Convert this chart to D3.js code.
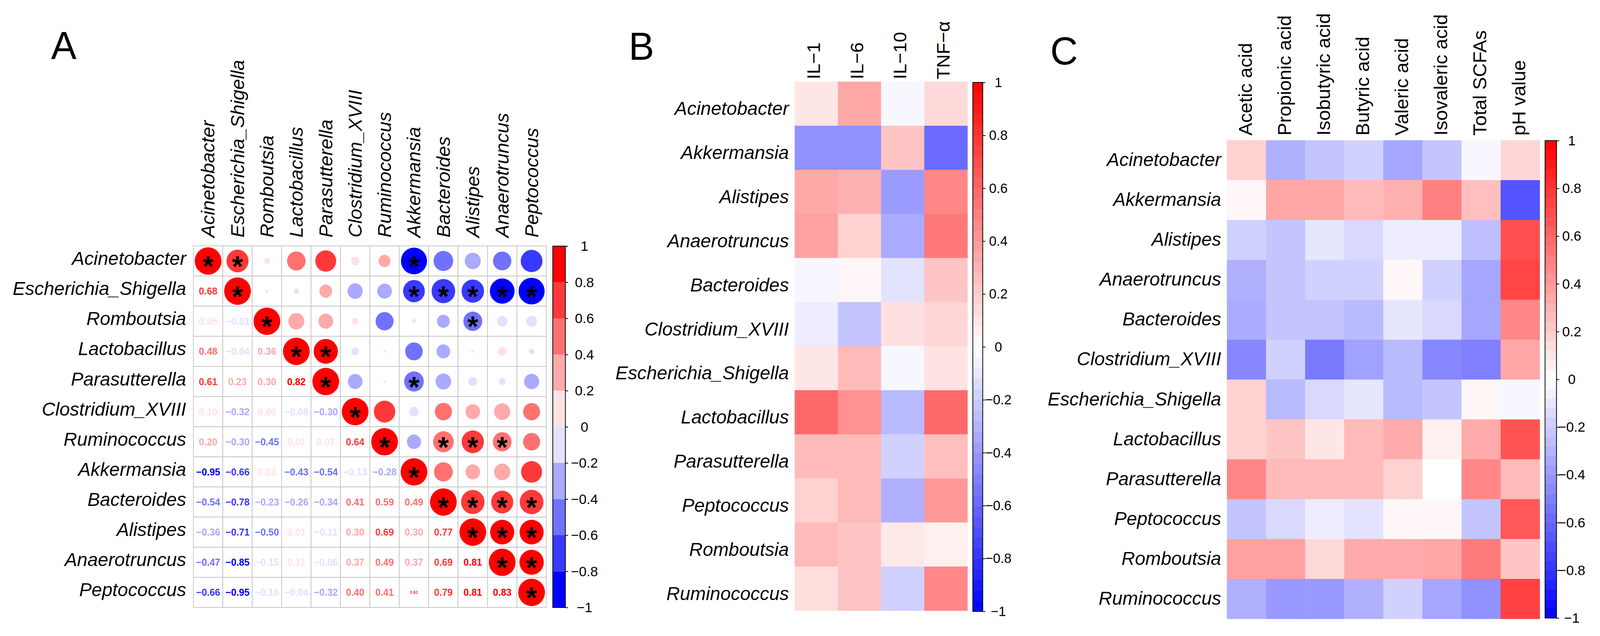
<!DOCTYPE html>
<html>
<head>
<meta charset="utf-8">
<title>Correlation heatmaps</title>
<script src="https://cdn.jsdelivr.net/npm/d3@7"></script>
<style>
  html, body { margin: 0; padding: 0; background: #fff; overflow: hidden; }
  svg { display: block; width: 100vw; height: 100vh; }
  text { font-family: "Liberation Sans", Arial, sans-serif; }
</style>
</head>
<body>
<svg viewBox="0 0 4194 1628" preserveAspectRatio="none" id="mainsvg"></svg>
<script>
// ---- data: panel A (genus x genus spearman, lower triangle) ----
const taxaA = ['Acinetobacter', 'Escherichia_Shigella', 'Romboutsia', 'Lactobacillus', 'Parasutterella',
  'Clostridium_XVIII', 'Ruminococcus', 'Akkermansia', 'Bacteroides', 'Alistipes', 'Anaerotruncus', 'Peptococcus'];
const corrLower = [
  [],
  [0.68],
  [0.05, -0.01],
  [0.48, -0.04, 0.36],
  [0.61, 0.23, 0.30, 0.82],
  [0.10, -0.32, 0.06, -0.08, -0.30],
  [0.20, -0.30, -0.45, 0.01, 0.01, 0.64],
  [-0.95, -0.66, 0.03, -0.43, -0.54, -0.13, -0.28],
  [-0.54, -0.78, -0.23, -0.26, -0.34, 0.41, 0.59, 0.49],
  [-0.36, -0.71, -0.50, 0.01, -0.11, 0.30, 0.69, 0.30, 0.77],
  [-0.47, -0.85, -0.15, 0.11, -0.06, 0.37, 0.49, 0.37, 0.69, 0.81],
  [-0.66, -0.95, -0.16, -0.04, -0.32, 0.40, 0.41, 0.62, 0.79, 0.81, 0.83]
];
// significant pairs [row, col] in the upper triangle (diagonal is always marked)
const sigPairs = [[0, 1], [0, 7], [1, 7], [1, 8], [1, 9], [1, 10], [1, 11], [2, 9], [3, 4], [4, 7],
  [6, 8], [6, 9], [6, 10], [8, 9], [8, 10], [8, 11], [9, 10], [9, 11], [10, 11]];
const legendTicks = [1, 0.8, 0.6, 0.4, 0.2, 0, -0.2, -0.4, -0.6, -0.8, -1];

// ---- data: panels B and C ----
const taxaBC = ['Acinetobacter', 'Akkermansia', 'Alistipes', 'Anaerotruncus', 'Bacteroides', 'Clostridium_XVIII',
  'Escherichia_Shigella', 'Lactobacillus', 'Parasutterella', 'Peptococcus', 'Romboutsia', 'Ruminococcus'];

const cytokines = ['IL\u22121', 'IL\u22126', 'IL\u221210', 'TNF\u2212\u03b1'];
const il1  = [0.10, -0.43, 0.34, 0.37, -0.03, -0.07, 0.10, 0.59, 0.27, 0.18, 0.27, 0.13];
const il6  = [0.34, -0.43, 0.31, 0.18, 0.03, -0.23, 0.27, 0.43, 0.27, 0.27, 0.23, 0.23];
const il10 = [-0.03, 0.23, -0.39, -0.33, -0.11, 0.12, -0.03, -0.27, -0.18, -0.31, 0.09, -0.18];
const tnf  = [0.15, -0.58, 0.47, 0.53, 0.23, 0.16, 0.11, 0.59, 0.25, 0.40, 0.06, 0.47];

const scfaNames = ['Acetic acid', 'Propionic acid', 'Isobutyric acid', 'Butyric acid', 'Valeric acid',
  'Isovaleric acid', 'Total SCFAs', 'pH value'];
const acetic     = [0.18, 0.03, -0.18, -0.31, -0.33, -0.47, 0.18, 0.18, 0.47, -0.23, 0.37, -0.31];
const propionic  = [-0.31, 0.35, -0.23, -0.23, -0.23, -0.18, -0.27, 0.23, 0.27, -0.15, 0.37, -0.40];
const isobutyric = [-0.23, 0.35, -0.10, -0.18, -0.23, -0.52, -0.15, 0.10, 0.27, -0.07, 0.15, -0.40];
const butyric    = [-0.18, 0.27, -0.15, -0.18, -0.27, -0.37, -0.10, 0.27, 0.27, -0.11, 0.33, -0.31];
const valeric    = [-0.35, 0.31, -0.07, 0.03, -0.10, -0.27, -0.27, 0.33, 0.18, 0.03, 0.33, -0.18];
const isovaleric = [-0.23, 0.50, -0.07, -0.18, -0.15, -0.47, -0.23, 0.06, 0.00, 0.03, 0.35, -0.35];
const totalSCFAs = [-0.03, 0.25, -0.25, -0.35, -0.35, -0.50, 0.03, 0.33, 0.47, -0.23, 0.52, -0.43];
const phValue    = [0.16, -0.67, 0.69, 0.73, 0.47, 0.35, -0.03, 0.67, 0.27, 0.65, 0.23, 0.75];

const svg = d3.select('#mainsvg');
const fmtTick = d3.format('~g');

// panel letters
svg.append('text').attr('x', 134).attr('y', 151).attr('font-size', 100).text('A');
svg.append('text').attr('x', 1648).attr('y', 153).attr('font-size', 100).text('B');
svg.append('text').attr('x', 2753).attr('y', 165).attr('font-size', 100).text('C');

// ================= Panel A =================
const binColors = ['#0000FF', '#3939FF', '#7171FF', '#AAAAFF', '#E2E2FF', '#FFE3E3', '#FFAAAA', '#FF7171', '#FF3939', '#FF0000'];
const colorA = d3.scaleQuantize().domain([-1, 1]).range(binColors);
const xA = d3.scaleBand().domain(taxaA).range([507, 1432]);
const yA = d3.scaleBand().domain(taxaA).range([629.5, 1555]);
const cell = xA.bandwidth();
const rA = d3.scaleSqrt().domain([0, 1]).range([0, cell * 0.455]);

const cellsA = [];
taxaA.forEach((rowName, i) => {
  taxaA.forEach((colName, j) => {
    const v = i === j ? 1 : (i > j ? corrLower[i][j] : corrLower[j][i]);
    cellsA.push({i, j, row: rowName, col: colName, v});
  });
});
const isSig = d => d.i === d.j || sigPairs.some(p => p[0] === d.i && p[1] === d.j);

const gA = svg.append('g');
gA.selectAll('rect.grid').data(cellsA).enter().append('rect')
  .attr('class', 'grid')
  .attr('x', d => xA(d.col)).attr('y', d => yA(d.row))
  .attr('width', cell).attr('height', cell)
  .attr('fill', 'white').attr('stroke', '#C8C8C8').attr('stroke-width', 2);

gA.selectAll('circle').data(cellsA.filter(d => d.j >= d.i)).enter().append('circle')
  .attr('cx', d => xA(d.col) + cell / 2).attr('cy', d => yA(d.row) + cell / 2)
  .attr('r', d => rA(Math.abs(d.v)))
  .attr('fill', d => colorA(d.v));

gA.selectAll('text.num').data(cellsA.filter(d => d.j < d.i)).enter().append('text')
  .attr('class', 'num')
  .attr('x', d => xA(d.col) + cell / 2).attr('y', d => yA(d.row) + cell / 2)
  .attr('dy', '0.36em').attr('text-anchor', 'middle')
  .attr('font-weight', 'bold')
  .attr('font-size', d => (d.row === 'Peptococcus' && d.col === 'Akkermansia') ? 11 : 25)
  .attr('fill', d => colorA(d.v))
  .text(d => d3.format('.2f')(d.v));

gA.selectAll('text.star').data(cellsA.filter(isSig)).enter().append('text')
  .attr('class', 'star')
  .attr('x', d => xA(d.col) + cell / 2).attr('y', d => yA(d.row) + cell / 2 + 39)
  .attr('text-anchor', 'middle').attr('font-size', 74).attr('font-weight', 'bold')
  .text('*');

// row and column labels
gA.selectAll('text.rlab').data(taxaA).enter().append('text')
  .attr('x', 488).attr('y', d => yA(d) + cell / 2 + 10)
  .attr('text-anchor', 'end').attr('font-style', 'italic').attr('font-size', 49)
  .text(d => d);
gA.selectAll('text.clab').data(taxaA).enter().append('text')
  .attr('transform', d => `translate(${xA(d) + cell / 2 + 17}, 608) rotate(-90)`)
  .attr('text-anchor', 'start').attr('font-style', 'italic').attr('font-size', 49)
  .text(d => d);

// discrete colour legend
const yLegA = d3.scaleLinear().domain([-1, 1]).range([1555, 630]);
const gLegA = svg.append('g');
gLegA.selectAll('rect').data(binColors).enter().append('rect')
  .attr('x', 1449).attr('width', 33)
  .attr('y', (c, k) => yLegA(-1 + 0.2 * (k + 1)))
  .attr('height', (c, k) => yLegA(-1 + 0.2 * k) - yLegA(-1 + 0.2 * (k + 1)))
  .attr('fill', c => c);
gLegA.append('rect').attr('x', 1449).attr('y', 630).attr('width', 33).attr('height', 925)
  .attr('fill', 'none').attr('stroke', 'black').attr('stroke-width', 2);
const axA = gLegA.append('g').attr('transform', 'translate(1482,0)')
  .call(d3.axisRight(yLegA).tickValues(legendTicks).tickSize(7).tickFormat(fmtTick));
axA.select('.domain').remove();
axA.selectAll('line').attr('stroke-width', 2);
axA.selectAll('text').attr('x', 50).attr('text-anchor', 'middle').style('font-size', '36px');

// ================= Panels B and C =================
const colorCont = d3.scaleLinear().domain([-1, 0, 1]).range(['#0000FF', '#FFFFFF', '#FF0000']);

function drawHeat(cfg) {
  const x = d3.scaleBand().domain(cfg.cols).range(cfg.xRange);
  const y = d3.scaleBand().domain(taxaBC).range(cfg.yRange);
  const g = svg.append('g');
  const cells = [];
  cfg.series.forEach((vals, c) => vals.forEach((v, r) => cells.push({col: cfg.cols[c], row: taxaBC[r], v})));

  g.selectAll('rect').data(cells).enter().append('rect')
    .attr('x', d => x(d.col)).attr('y', d => y(d.row))
    .attr('width', x.bandwidth() + 0.5).attr('height', y.bandwidth() + 0.5)
    .attr('fill', d => colorCont(d.v));

  g.selectAll('text.rlab').data(taxaBC).enter().append('text')
    .attr('x', cfg.rowLabX).attr('y', d => y(d) + y.bandwidth() / 2 + cfg.rowDy)
    .attr('text-anchor', 'end').attr('font-style', 'italic').attr('font-size', 49)
    .text(d => d);

  g.selectAll('text.clab').data(cfg.cols).enter().append('text')
    .attr('transform', d => `translate(${x(d) + x.bandwidth() / 2 + cfg.colDx}, ${cfg.colLabY}) rotate(-90)`)
    .attr('text-anchor', 'start').attr('font-size', cfg.colFont)
    .text(d => d);

  // stepped colour bar
  const yLeg = d3.scaleLinear().domain([-1, 1]).range(cfg.barY);
  const steps = d3.range(50).map(k => -1 + k * 0.04);
  g.selectAll('rect.bar').data(steps).enter().append('rect')
    .attr('class', 'bar')
    .attr('x', cfg.barX[0]).attr('width', cfg.barX[1] - cfg.barX[0])
    .attr('y', s => yLeg(s + 0.04)).attr('height', s => yLeg(s) - yLeg(s + 0.04) + 0.5)
    .attr('fill', s => colorCont(s + 0.02));
  g.append('rect').attr('x', cfg.barX[0]).attr('y', cfg.barY[1])
    .attr('width', cfg.barX[1] - cfg.barX[0]).attr('height', cfg.barY[0] - cfg.barY[1])
    .attr('fill', 'none').attr('stroke', 'black').attr('stroke-width', 2);
  const ax = g.append('g').attr('transform', `translate(${cfg.barX[1]},0)`)
    .call(d3.axisRight(yLeg).tickValues(legendTicks).tickSize(7).tickFormat(fmtTick));
  ax.select('.domain').remove();
  ax.selectAll('line').attr('stroke-width', 2);
  ax.selectAll('text').attr('x', cfg.tickLabDx).attr('text-anchor', 'middle').style('font-size', cfg.tickFont + 'px');
}

drawHeat({
  cols: cytokines, series: [il1, il6, il10, tnf],
  xRange: [2083, 2536], yRange: [209, 1563],
  rowLabX: 2068, rowDy: 29, colDx: 9.5, colLabY: 203, colFont: 48,
  barX: [2550, 2576], barY: [1565, 211], tickLabDx: 41, tickFont: 35
});

drawHeat({
  cols: scfaNames, series: [acetic, propionic, isobutyric, butyric, valeric, isovaleric, totalSCFAs, phValue],
  xRange: [3216, 4036], yRange: [359, 1584],
  rowLabX: 3201, rowDy: 15, colDx: 14, colLabY: 347, colFont: 49,
  barX: [4050, 4080], barY: [1582, 360], tickLabDx: 40, tickFont: 36
});
</script>
</body>
</html>
